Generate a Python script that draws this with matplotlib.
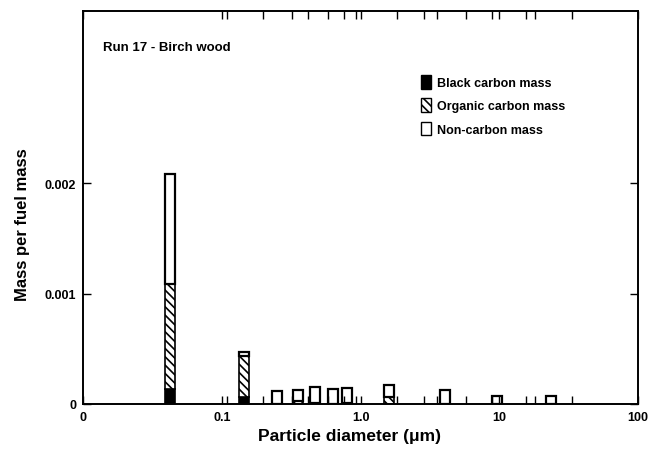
import numpy as np
import matplotlib
matplotlib.use("Agg")
import matplotlib.pyplot as plt
import matplotlib.patches as mpatches
from matplotlib.ticker import FixedLocator, NullFormatter

plt.rcParams["font.family"] = ["Liberation Sans", "DejaVu Sans"]
plt.rcParams["hatch.linewidth"] = 1.2

# ── data ───────────────────────────────────────────────────────────────────
diameter = [0.042, 0.145, 0.249, 0.356, 0.47, 0.63, 0.80, 1.6, 4.06, 9.7, 23.6]
total    = [2.08e-3, 0.467e-3, 0.115e-3, 0.13e-3, 0.15e-3, 0.139e-3, 0.145e-3,
            0.175e-3, 0.127e-3, 0.075e-3, 0.075e-3]
black    = [0.136e-3, 0.06e-3, 0, 0, 0, 0, 0, 0, 0, 0, 0]
organic  = [0.954e-3, 0.377e-3, 0, 0.025e-3, 0.008e-3, 0, 0.008e-3, 0.06e-3, 0, 0, 0]
stage_edges = [0.1087, 0.198, 0.32, 0.42, 0.58, 0.757, 0.93, 1.83, 2.88,
               3.56, 5.72, 8.8, 15.5, 18.0, 33.4]
xtick_vals = [0.01, 0.1, 1.0, 10, 100]
xtick_labels = ["0", "0.1", "1.0", "10", "100"]
ytick_vals = [0, 0.001, 0.002]
ytick_labels = ["0", "0.001", "0.002"]

d = np.array(diameter)
tot = np.array(total)
bc = np.array(black)
oc = np.array(organic)
nc = tot - bc - oc

# bars have constant width in log space
half = 10 ** 0.036
left = d / half
width = d * half - left

fig = plt.figure(figsize=(6.49, 4.52), dpi=100)
ax = fig.add_axes([0.128, 0.104, 0.855, 0.869])
ax.set_xscale("log")

ax.bar(left, bc, width=width, align="edge", color="black",
       edgecolor="black", linewidth=1.2)
ax.bar(left, oc, width=width, bottom=bc, align="edge", color="white",
       edgecolor="black", hatch="\\\\\\\\", linewidth=1.2)
ax.bar(left, nc, width=width, bottom=bc + oc, align="edge", color="white",
       edgecolor="black", linewidth=1.6)

ax.set_xlim(0.01, 100)
ax.set_ylim(0, 0.00356)

ax.xaxis.set_major_locator(FixedLocator(xtick_vals))
ax.set_xticklabels(xtick_labels)
ax.xaxis.set_minor_locator(FixedLocator(stage_edges))
ax.xaxis.set_minor_formatter(NullFormatter())
ax.set_yticks(ytick_vals)
ax.set_yticklabels(ytick_labels)

ax.tick_params(axis="both", which="major", direction="in", length=6, width=1.0,
               top=True, right=True, labelsize=9, pad=5)
ax.tick_params(axis="x", which="minor", direction="in", length=6, width=1.0,
               top=True, bottom=True)
for lbl in ax.get_xticklabels() + ax.get_yticklabels():
    lbl.set_fontweight("bold")

for s in ax.spines.values():
    s.set_linewidth(1.4)

ax.set_xlabel("Particle diameter (\u03bcm)", fontsize=12.5, fontweight="bold")
ax.set_ylabel("Mass per fuel mass", fontsize=12, fontweight="bold")
ax.xaxis.set_label_coords(0.48, -0.062)
ax.yaxis.set_label_coords(-0.095, 0.458)

ax.text(0.036, 0.91, "Run 17 - Birch wood", transform=ax.transAxes,
        fontsize=9.5, fontweight="bold", va="center", ha="left")

handles = [
    mpatches.Patch(facecolor="black", edgecolor="black", label="Black carbon mass"),
    mpatches.Patch(facecolor="white", edgecolor="black", hatch="\\\\\\\\",
                   label="Organic carbon mass"),
    mpatches.Patch(facecolor="white", edgecolor="black", label="Non-carbon mass"),
]
leg = ax.legend(handles=handles, loc="upper left", bbox_to_anchor=(0.6, 0.85),
                frameon=False, fontsize=9, handlelength=0.8, handleheight=1.3,
                handletextpad=0.5, labelspacing=0.75, borderaxespad=0)
for t in leg.get_texts():
    t.set_fontweight("bold")

fig.savefig("out.png", dpi=100)
